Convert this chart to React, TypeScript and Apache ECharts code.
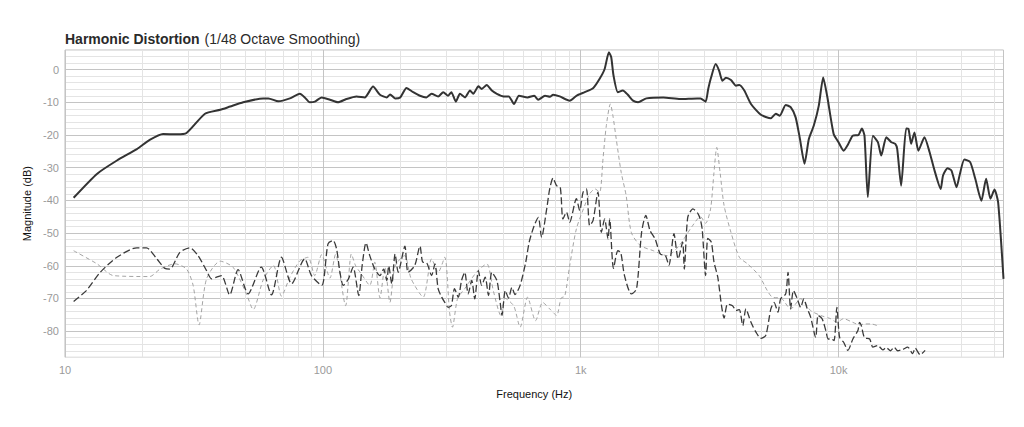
import React, { useEffect, useRef } from "react";
import * as echarts from "echarts";

// ---- Fundamental (solid) ----
const fundFreq = [10.8, 13.3, 15.9, 19.0, 21.3, 24.0, 27.1, 29.6, 34.9, 40, 43.7, 49.1, 58.7, 61.5, 67.2, 74.5, 81.4, 85.1, 89, 93.1, 98.9, 106.5, 114.5, 123.3, 135, 145.4, 156.5, 166.5, 176.9, 182.3, 190.6, 199.5, 211, 224, 238, 252, 264, 280, 293, 306, 315, 328, 340, 356, 372, 383, 401, 413, 432, 452, 473, 502, 526, 551, 576, 622, 660, 684, 727, 760, 781, 829, 906, 962, 1036, 1116, 1184, 1238, 1286, 1313, 1340, 1393, 1456, 1523, 1595, 1669, 1798, 2091, 2430, 2827, 2913, 3050, 3120, 3200, 3336, 3440, 3545, 3657, 3825, 4000, 4121, 4309, 4573, 4994, 5460, 5708, 5913, 6235, 6518, 6814, 7081, 7376, 7667, 8015, 8380, 8714, 9026, 9568, 9991, 10460, 10860, 11340, 11950, 12310, 12600, 12980, 13580, 14200, 14640, 15310, 16010, 16590, 16880, 17480, 18280, 18660, 19110, 19680, 20390, 21520, 22510, 23560, 24890, 25410, 26440, 27400, 28670, 29540, 30740, 32380, 33890, 35790, 37330, 38800, 40230, 41560, 43600];
const fundDb = [-39.2, -31.9, -27.8, -24.3, -21.5, -19.7, -19.8, -19.4, -13.5, -12.3, -11.3, -10.0, -8.8, -8.8, -9.7, -8.8, -7.4, -8.5, -10.0, -9.8, -8.5, -9.2, -10.0, -9.0, -8.2, -8.5, -5.2, -7.7, -8.5, -7.6, -8.8, -8.5, -5.6, -6.9, -8.0, -8.5, -7.4, -8.2, -6.9, -8.0, -6.9, -9.8, -7.4, -8.5, -6.4, -7.4, -5.1, -5.9, -4.7, -6.4, -7.4, -8.2, -8.2, -10.5, -8.0, -8.5, -8.0, -9.2, -8.0, -8.3, -7.7, -8.2, -9.5, -8.0, -6.9, -5.7, -2.8, 0.2, 5.3, 3.8, -1.8, -6.9, -6.4, -7.7, -9.5, -10.0, -8.8, -8.5, -9.0, -8.8, -8.8, -9.8, -6.0, -2.5, 1.7, -0.3, -3.4, -2.5, -3.2, -4.9, -4.7, -6.4, -10.5, -13.8, -14.9, -13.5, -14.1, -10.8, -11.5, -14.6, -21.2, -28.8, -21.2, -17.1, -11.0, -2.4, -8.0, -19.7, -22.2, -24.8, -23.0, -20.2, -20.0, -18.0, -20.2, -39.0, -20.2, -22.2, -26.3, -20.7, -22.2, -22.7, -24.3, -35.5, -18.0, -18.1, -22.7, -19.2, -24.8, -20.7, -25.1, -30.9, -36.5, -32.4, -30.2, -30.9, -36.0, -31.9, -27.5, -28.3, -33.4, -40.1, -33.4, -39.5, -36.7, -40.6, -64.0];

// ---- 2nd harmonic (dark dashed) ----
const h2Freq = [10.8, 12.1, 13.7, 15.9, 19.0, 20.7, 22.7, 24.4, 25.5, 27.9, 30.5, 32.8, 35.4, 37.0, 38.7, 40.5, 43.5, 46.9, 51.3, 57.7, 63.2, 69.1, 75.6, 85, 90.3, 99, 104.7, 109.6, 113, 116.5, 120, 125.7, 131, 137.8, 142, 147, 152, 159, 166.5, 172, 177, 180, 185, 190.6, 196, 208, 214, 227, 238, 244, 252, 264, 272, 280, 289, 297, 306, 315, 324, 335, 345, 355, 366, 378, 388, 401, 413, 426, 439, 452, 473, 487, 495, 510, 525, 541, 556, 582, 612, 631, 660, 685, 705, 738, 758, 781, 806, 833, 853, 880, 906, 962, 991, 1021, 1052, 1083, 1116, 1166, 1202, 1238, 1276, 1295, 1340, 1393, 1430, 1478, 1571, 1646, 1722, 1788, 1856, 1943, 2035, 2130, 2197, 2299, 2387, 2484, 2521, 2600, 2723, 2852, 2913, 2960, 3050, 3110, 3210, 3287, 3400, 3515, 3597, 3710, 3880, 4000, 4120, 4250, 4370, 4573, 4780, 4994, 5220, 5460, 5620, 5820, 5960, 6235, 6365, 6518, 6680, 6900, 7128, 7330, 7540, 7790, 8150, 8330, 8630, 8920, 9110, 9370, 9600, 9850, 10090, 10460, 10860, 11360, 11880, 12060, 12250, 12600, 13200, 13580, 14200, 14850, 15310, 15900, 16420, 16950, 17720, 18530, 19380, 19810, 20710, 21650];
const h2Db = [-70.9, -67.6, -62.0, -57.4, -54.5, -54.5, -57.9, -60.8, -61.0, -55.9, -54.5, -56.9, -61.5, -64.0, -63.5, -63.0, -68.9, -61.2, -68.6, -60.4, -68.9, -57.4, -65.5, -57.9, -63, -66, -53.3, -52.3, -54.8, -62, -66, -64, -60.4, -69.1, -60, -53, -56.9, -61, -63, -61, -64.5, -60, -65.5, -56.4, -62, -54, -62, -60, -54, -58.9, -59, -63, -59.4, -67.1, -69.6, -71.2, -72.7, -72.2, -67, -69.6, -64.5, -62, -68.6, -64.5, -70.1, -61.5, -66, -63.5, -69.1, -62, -64.5, -71.2, -75.2, -67.6, -69.9, -66.6, -68.8, -66, -58.9, -52.8, -47.7, -45.2, -51.3, -42.6, -36.5, -33.2, -35.5, -36, -45.7, -43.6, -46.7, -39.5, -43.1, -37.5, -36.5, -47.7, -46.2, -37.5, -49.8, -45.7, -51.8, -45.7, -60.8, -55.4, -56, -63, -68.6, -67.1, -49.8, -44.6, -49.2, -51.8, -56.4, -56.9, -59.9, -50.2, -57.9, -52.8, -61, -45.2, -42.6, -44.1, -46, -49, -63, -51.6, -52.8, -58.9, -63.5, -72.2, -76, -71.7, -72.2, -73.7, -73.4, -78.3, -73.2, -77.3, -80.3, -82.2, -81.3, -73.2, -71.2, -74.2, -70.1, -68.6, -62, -73.2, -67.6, -69.9, -72.7, -70.1, -72.9, -75.7, -81.9, -75.2, -76.2, -79.8, -82.4, -82.4, -82.9, -72.7, -81.9, -83.4, -85.9, -82.4, -79.8, -77.3, -78.3, -82, -82.4, -84.9, -84.4, -85.7, -85, -86, -84.9, -86, -85.6, -84.9, -86.9, -85.2, -87.2, -85.9];

// ---- 3rd harmonic (light dashed) ----
const h3Freq = [10.8, 13.3, 15.4, 21.3, 23.4, 26.7, 29.6, 31.4, 33.1, 35.4, 40, 44.9, 50.5, 53.7, 58.7, 64.3, 69.1, 74.5, 81.4, 87.6, 93, 98.9, 106.5, 112, 122.5, 129, 134, 141, 152, 159, 166.5, 174, 182, 190, 202, 208, 220, 245, 264, 280, 297, 310, 318, 333, 355, 394, 432, 459, 490, 510, 550, 582, 622, 668, 712, 758, 806, 839, 867, 906, 962, 1036, 1083, 1136, 1184, 1220, 1257, 1303, 1333, 1373, 1435, 1500, 1571, 1702, 1913, 2162, 2400, 2700, 2913, 3050, 3188, 3287, 3368, 3470, 3597, 3825, 4121, 4432, 4920, 5290, 5531, 6010, 6518, 7128, 7790, 8519, 9315, 9850, 10450, 11340, 12060, 12610, 13390, 14420];
const h3Db = [-55.4, -59.4, -63, -63.3, -61, -59.4, -61, -66, -78.1, -64, -58.6, -60.5, -68.6, -73.4, -64.3, -59.9, -69.3, -63.5, -58.5, -57.4, -63, -56.6, -63.8, -56.5, -72.2, -56.4, -60, -62.5, -66, -58.9, -69.8, -60.4, -71.2, -60.4, -57.4, -56.9, -64, -69.6, -57.9, -62, -57.4, -74.2, -78.8, -70, -67, -62, -59.4, -67.9, -75.2, -70, -72.3, -78.8, -69.6, -76.8, -71.2, -73.2, -75.2, -69.9, -69.3, -60, -48.7, -41.6, -38, -36.5, -37.5, -27.3, -17.1, -10.5, -14.1, -21.2, -31.4, -38.5, -49.8, -53.8, -55.4, -56.9, -54, -48, -45, -47, -42.6, -31.4, -23.8, -31.4, -41.6, -49.8, -57.4, -59.4, -63, -67.6, -69.6, -70, -73.2, -70.1, -73.7, -75.2, -76.2, -77.3, -76.2, -77.3, -78.1, -77.8, -77.8, -78.6];

// ---- Axis ticks ----
const decadeLabels: Record<number, string> = { 10: "10", 100: "100", 1000: "1k", 10000: "10k" };
const minorFreqTicks = [20, 30, 40, 50, 60, 70, 80, 90, 200, 300, 400, 500, 600, 700, 800, 900, 2000, 3000, 4000, 5000, 6000, 7000, 8000, 9000, 20000, 30000, 40000];

const pairs = (f: number[], d: number[]) => f.map((v, i) => [v, d[i]]);

const FONT = "'Liberation Sans', Arial, Helvetica, sans-serif";

export default function App() {
  const ref = useRef<HTMLDivElement>(null);
  useEffect(() => {
    if (!ref.current) return;
    const chart = echarts.init(ref.current, null, { renderer: "svg" });
    const major = "#c4c4c4";
    const minor = "#e4e4e4";
    chart.setOption({
      animation: false,
      backgroundColor: "#ffffff",
      textStyle: { fontFamily: FONT },
      title: {
        text: "{b|Harmonic Distortion} {n|(1/48 Octave Smoothing)}",
        left: 60,
        top: 25,
        textStyle: {
          rich: {
            b: { fontFamily: FONT, fontSize: 14, fontWeight: "bold", color: "#2a2a2a" },
            n: { fontFamily: FONT, fontSize: 14, fontWeight: "normal", color: "#2a2a2a" },
          },
        },
      },
      grid: {
        left: 65,
        right: 20.5,
        top: 50,
        bottom: 69.7,
        show: true,
        borderColor: "#bdbdbd",
        borderWidth: 1,
        backgroundColor: "transparent",
      },
      xAxis: {
        type: "log",
        logBase: 10,
        min: 10,
        max: 43600,
        name: "Frequency (Hz)",
        nameLocation: "middle",
        nameGap: 31,
        nameTextStyle: { color: "#111", fontSize: 11, fontFamily: FONT },
        axisLine: { show: false },
        axisTick: { show: false },
        axisLabel: {
          color: "#9a9a9a",
          fontSize: 11,
          margin: 7,
          fontFamily: FONT,
          formatter: (v: number) => {
            const r = Math.round(v);
            return decadeLabels[r] !== undefined && Math.abs(v - r) < 1e-6 ? decadeLabels[r] : "";
          },
        },
        splitLine: { show: true, lineStyle: { color: major, width: 1 } },
      },
      yAxis: {
        type: "value",
        min: -88,
        max: 6,
        interval: 2,
        name: "Magnitude (dB)",
        nameLocation: "middle",
        nameRotate: 90,
        nameGap: 31,
        nameTextStyle: { color: "#111", fontSize: 11, fontFamily: FONT },
        axisLine: { show: false },
        axisTick: { show: false },
        axisLabel: {
          color: "#9a9a9a",
          fontSize: 11,
          margin: 6,
          fontFamily: FONT,
          formatter: (v: number) => (Math.round(v) % 10 === 0 ? String(Math.round(v)) : ""),
        },
        splitLine: {
          show: true,
          lineStyle: { color: [minor, minor, minor, minor, major], width: 1 },
        },
      },
      series: [
        {
          type: "line",
          name: "grid-minor",
          data: [],
          silent: true,
          z: 1,
          markLine: {
            silent: true,
            symbol: "none",
            z: 1,
            label: { show: false },
            emphasis: { disabled: true },
            lineStyle: { color: minor, width: 1, type: "solid" },
            data: minorFreqTicks.map((v) => ({ xAxis: v })),
          },
        },
        {
          type: "line",
          name: "H3",
          data: pairs(h3Freq, h3Db),
          showSymbol: false,
          symbol: "none",
          smooth: 0.25,
          z: 3,
          lineStyle: { color: "#9a9a9a", width: 0.9, type: [4, 3] },
        },
        {
          type: "line",
          name: "H2",
          data: pairs(h2Freq, h2Db),
          showSymbol: false,
          symbol: "none",
          smooth: 0.25,
          z: 4,
          lineStyle: { color: "#3a3a3a", width: 1.3, type: [7, 3] },
        },
        {
          type: "line",
          name: "Fundamental",
          data: pairs(fundFreq, fundDb),
          showSymbol: false,
          symbol: "none",
          smooth: 0.2,
          z: 5,
          lineStyle: { color: "#333333", width: 2 },
        },
      ],
    });
    return () => chart.dispose();
  }, []);
  return (
    <div
      ref={ref}
      style={{ position: "absolute", left: 0, top: 0, width: 1024, height: 427, background: "#fff" }}
    />
  );
}
